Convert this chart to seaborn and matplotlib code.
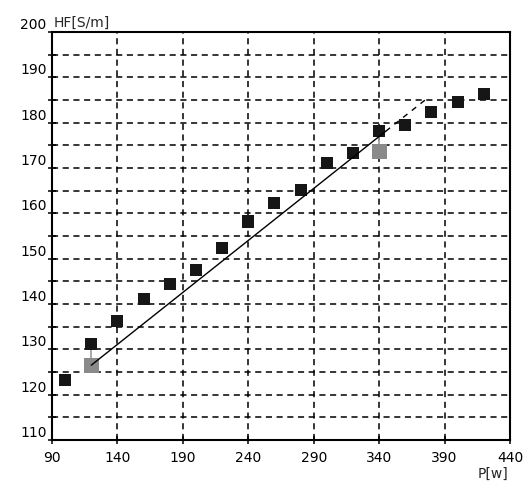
import numpy as np
import pandas as pd
import matplotlib.pyplot as plt
import seaborn as sns

sns.set_style("ticks")
plt.rcParams['font.family'] = ['DejaVu Sans']

# measured points (black squares)
power = [100, 120, 140, 160, 180, 200, 220, 240, 260, 280, 300, 320, 340, 360, 380, 400, 420]
hf = [123.2, 131.2, 136.3, 141.1, 144.4, 147.6, 152.3, 158.2, 162.2, 165.2,
      171.2, 173.3, 178.2, 179.5, 182.3, 184.5, 186.3]

# reference points (grey squares)
ref_power = [120, 340]
ref_hf = [126.5, 173.7]
ref_top = [131.2, 178.2]

# fitted line (solid part and dashed extension)
fit_x = [120, 345]
fit_y = [126.5, 178.1]
ext_x = [345, 376]
ext_y = [178.1, 185.2]

x_ticks = [90, 140, 190, 240, 290, 340, 390, 440]
y_ticks = [110, 120, 130, 140, 150, 160, 170, 180, 190, 200]

df = pd.DataFrame({'P': power, 'HF': hf})
ref = pd.DataFrame({'P': ref_power, 'HF': ref_hf})

fig = plt.figure(figsize=(5.26, 4.86), dpi=100)
ax = fig.add_axes([52 / 526, 46 / 486, 458 / 526, 408 / 486])

ax.set_xlim(90, 440)
ax.set_ylim(110, 200)
ax.set_xticks(x_ticks)
ax.set_yticks(y_ticks)
ax.set_yticks(np.arange(115, 200, 10), minor=True)

# dashed grid
for x in x_ticks[1:-1]:
    ax.axvline(x, color='black', linestyle=(0, (4, 3)), linewidth=1.1, zorder=0)
for y in np.arange(115, 200, 5):
    ax.axhline(y, color='black', linestyle=(0, (4, 3)), linewidth=1.1, zorder=0)

# connectors between grey and black squares
ax.vlines(ref_power, ref_hf, ref_top, color='#9a9a9a', linewidth=1.2, zorder=1)

sns.scatterplot(data=df, x='P', y='HF', marker='s', s=75, color='#161616',
                edgecolor='none', ax=ax, zorder=3)
sns.scatterplot(data=ref, x='P', y='HF', marker='s', s=120, color='#8a8a8a',
                edgecolor='none', ax=ax, zorder=3)

sns.lineplot(x=fit_x, y=fit_y, color='black', linewidth=1.0, ax=ax, zorder=4)
sns.lineplot(x=ext_x, y=ext_y, color='black', linewidth=1.0, linestyle=(0, (4, 4)),
             ax=ax, zorder=4)

for side in ['left', 'right', 'top', 'bottom']:
    ax.spines[side].set_linewidth(1.5)
    ax.spines[side].set_color('black')

ax.tick_params(axis='both', which='both', direction='inout', length=6, width=1.1,
               labelsize=10, colors='black')
ax.tick_params(axis='x', pad=5)
ax.tick_params(axis='y', pad=1)
for lbl in ax.get_yticklabels():
    lbl.set_verticalalignment('bottom')

ax.set_xlabel('P[w]', fontsize=10, ha='right', va='top')
ax.xaxis.set_label_coords(0.996, -0.066)
ax.set_ylabel('HF[S/m]', fontsize=10, rotation=0, ha='left', va='bottom')
ax.yaxis.set_label_coords(0.004, 1.005)

fig.savefig('out.png', dpi=100)
